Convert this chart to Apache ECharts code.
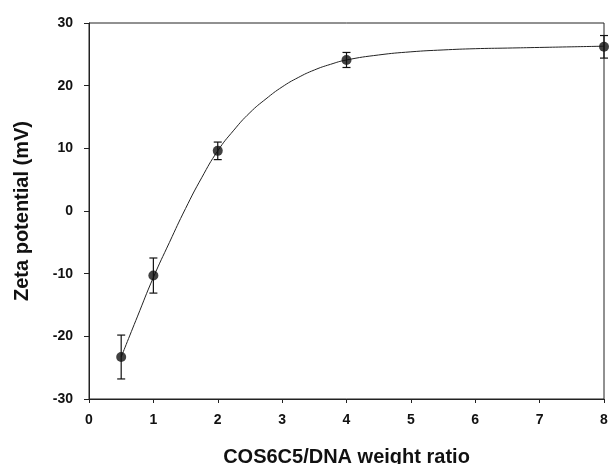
<!DOCTYPE html>
<html>
<head>
<meta charset="utf-8">
<script src="https://cdn.jsdelivr.net/npm/echarts@6/dist/echarts.min.js"></script>
<style>
  html, body { margin: 0; padding: 0; background: #fff; }
  #chart { width: 611px; height: 464px; }
</style>
</head>
<body>
<div id="chart"></div>
<script>
// measured points
const ratio = [0.5, 1, 2, 4, 8];
const zeta = [-23.3, -10.3, 9.6, 24.1, 26.2];
const zetaErr = [3.5, 2.8, 1.4, 1.2, 1.8];

// fitted curve
const fitX = [0.5, 0.75, 1, 1.25, 1.5, 1.75, 2, 2.25, 2.5, 2.75, 3, 3.25, 3.5, 3.75, 4, 4.5, 5, 5.5, 6, 6.5, 7, 7.5, 8];
const fitY = [-23.3, -16.9, -10.6, -5.0, 0.4, 5.3, 9.6, 12.9, 15.7, 17.9, 19.8, 21.3, 22.5, 23.4, 24.1, 24.9, 25.4, 25.7, 25.9, 26.0, 26.1, 26.2, 26.3];

const xTicks = [0, 1, 2, 3, 4, 5, 6, 7, 8];
const yTicks = [-30, -20, -10, 0, 10, 20, 30];

const chart = echarts.init(document.getElementById("chart"));

const fitData = fitX.map((x, i) => [x, fitY[i]]);
const pointData = ratio.map((x, i) => [x, zeta[i]]);
const errData = ratio.map((x, i) => [x, zeta[i] - zetaErr[i], zeta[i] + zetaErr[i]]);

const labelStyle = {
  color: "#111",
  fontFamily: "Liberation Sans, Arial, sans-serif",
  fontWeight: "bold",
  fontSize: 14,
};

const option = {
  animation: false,
  grid: {
    left: 89,
    right: 7,
    top: 23,
    bottom: 65,
    outerBoundsMode: "none",
    show: true,
    borderColor: "#222",
    borderWidth: 1,
  },
  xAxis: {
    type: "value",
    min: xTicks[0],
    max: xTicks[xTicks.length - 1],
    interval: 1,
    name: "COS6C5/DNA weight ratio",
    nameLocation: "middle",
    nameGap: 48,
    nameTextStyle: { ...labelStyle, fontSize: 20 },
    axisLine: { onZero: false, lineStyle: { color: "#222", width: 1 } },
    axisTick: { show: true, length: 4, lineStyle: { color: "#222" } },
    axisLabel: { ...labelStyle, margin: 14 },
    splitLine: { show: false },
  },
  yAxis: {
    type: "value",
    min: yTicks[0],
    max: yTicks[yTicks.length - 1],
    interval: 10,
    name: "Zeta potential (mV)",
    nameLocation: "middle",
    nameGap: 57,
    nameRotate: 90,
    nameTextStyle: { ...labelStyle, fontSize: 20 },
    axisLine: { onZero: false, lineStyle: { color: "#222", width: 1 } },
    axisTick: { show: true, length: 5, lineStyle: { color: "#222" } },
    axisLabel: { ...labelStyle, margin: 16 },
    splitLine: { show: false },
  },
  series: [
    {
      type: "line",
      data: fitData,
      smooth: true,
      showSymbol: false,
      lineStyle: { color: "#222", width: 1 },
      z: 2,
    },
    {
      type: "custom",
      data: errData,
      renderItem: (params, api) => {
        const x = api.value(0);
        const lo = api.coord([x, api.value(1)]);
        const hi = api.coord([x, api.value(2)]);
        const cap = 4;
        const style = { stroke: "#111", lineWidth: 1.2 };
        return {
          type: "group",
          children: [
            { type: "line", shape: { x1: lo[0], y1: lo[1], x2: hi[0], y2: hi[1] }, style },
            { type: "line", shape: { x1: lo[0] - cap, y1: lo[1], x2: lo[0] + cap, y2: lo[1] }, style },
            { type: "line", shape: { x1: hi[0] - cap, y1: hi[1], x2: hi[0] + cap, y2: hi[1] }, style },
          ],
        };
      },
      z: 3,
    },
    {
      type: "scatter",
      data: pointData,
      symbol: "circle",
      symbolSize: 10,
      itemStyle: { color: "#111" },
      z: 4,
    },
  ],
};

chart.setOption(option);
</script>
</body>
</html>
